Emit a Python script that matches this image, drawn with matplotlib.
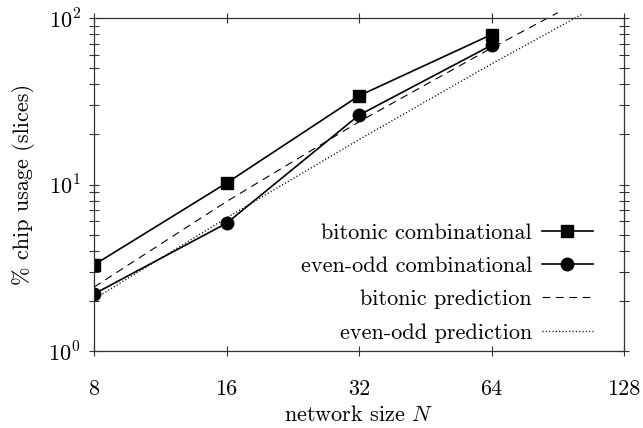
import matplotlib
matplotlib.use("Agg")
import matplotlib.pyplot as plt
from matplotlib.ticker import FixedLocator, FixedFormatter, NullLocator, NullFormatter

# ---- data ----
sizes = [8, 16, 32, 64]
bitonic_comb = [3.29, 10.2, 34.1, 79.5]
evenodd_comb = [2.2, 5.85, 26.1, 68.6]

bitonic_pred_n = [8, 16, 32, 64, 90.5]
bitonic_pred = [2.42, 7.9, 23.8, 66.0, 107.6]
evenodd_pred_n = [8, 16, 32, 64, 103]
evenodd_pred = [2.05, 6.3, 18.6, 53.0, 105.7]

x_ticks = [8, 16, 32, 64, 128]
x_tick_labels = ["8", "16", "32", "64", "128"]
y_ticks = [1, 10, 100]
y_tick_labels = [r"$10^{0}$", r"$10^{1}$", r"$10^{2}$"]
y_minor = [m * d for d in (1, 10) for m in range(2, 10)]

labels = ["bitonic combinational", "even-odd combinational",
          "bitonic prediction", "even-odd prediction"]

plt.rcParams["font.family"] = ["cmr10", "DejaVu Serif"]
plt.rcParams["mathtext.fontset"] = "cm"
plt.rcParams["axes.unicode_minus"] = False
FS = 16

fig = plt.figure(figsize=(6.43, 4.28), dpi=100)
ax = fig.add_axes([94 / 643, 1 - 351 / 428, (624 - 94) / 643, (351 - 18) / 428])

ax.set_xscale("log", base=2)
ax.set_yscale("log")
ax.set_xlim(8, 128)
ax.set_ylim(1, 100)

ax.plot(sizes, bitonic_comb, "-", color="black", lw=1.2, marker="s", ms=8.5, label=labels[0])
ax.plot(sizes, evenodd_comb, "-", color="black", lw=1.2, marker="o", ms=9, label=labels[1])
ax.plot(bitonic_pred_n, bitonic_pred, color="black", lw=0.8, dashes=(7, 5), clip_on=False, label=labels[2])
ax.plot(evenodd_pred_n, evenodd_pred, color="black", lw=1.0, dashes=(0.8, 1.6), clip_on=False, label=labels[3])

ax.xaxis.set_major_locator(FixedLocator(x_ticks))
ax.xaxis.set_major_formatter(FixedFormatter(x_tick_labels))
ax.xaxis.set_minor_locator(NullLocator())
ax.yaxis.set_major_locator(FixedLocator(y_ticks))
ax.yaxis.set_major_formatter(FixedFormatter(y_tick_labels))
ax.yaxis.set_minor_locator(FixedLocator(y_minor))
ax.yaxis.set_minor_formatter(NullFormatter())

ax.tick_params(axis="both", which="both", direction="inout", top=True, right=True,
               length=7, width=0.8, color="#333333", labelsize=FS)
ax.tick_params(axis="x", which="major", pad=17)
ax.tick_params(axis="y", which="major", pad=6)
for s in ax.spines.values():
    s.set_linewidth(0.9)
    s.set_color("#333333")

ax.set_xlabel(r"network size $N$", fontsize=FS, labelpad=4)
ax.set_ylabel("% chip usage (slices)", fontsize=FS, labelpad=10)

leg = ax.legend(loc="lower right", bbox_to_anchor=(0.975, -0.028), frameon=False,
                markerfirst=False, fontsize=FS, handlelength=2.3, handletextpad=0.45,
                labelspacing=0.62, borderpad=0.3)

fig.savefig("out.png", dpi=100)
